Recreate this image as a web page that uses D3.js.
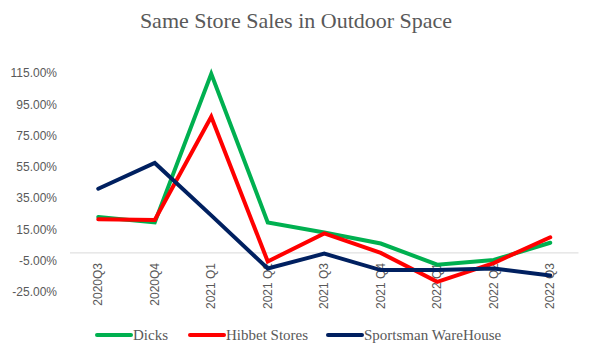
<!DOCTYPE html>
<html>
<head>
<meta charset="utf-8">
<script src="https://cdn.jsdelivr.net/npm/d3@7"></script>
<style>
  body { margin: 0; background: #fff; }
</style>
</head>
<body>
<div id="chart"></div>
<script>
// Quarters on the x axis
var quarters = ["2020Q3", "2020Q4", "2021 Q1", "2021 Q2", "2021 Q3", "2021 Q4", "2022 Q1", "2022 Q2", "2022 Q3"];

// Same store sales, percent
var dicks = [23, 19.5, 114.5, 19.5, 13, 6, -7.5, -4.5, 6.5];
var hibbet = [21.5, 21, 87, -5.5, 12.5, 0, -18.5, -6.5, 10];
var sportsman = [41, 57.5, 24, -10, -0.5, -11, -11, -10, -14.5];

var seriesNames = ["Dicks", "Hibbet Stores", "Sportsman WareHouse"];
var seriesColors = ["#00B050", "#FF0000", "#002060"];

// y ticks
var yTicks = [-25, -5, 15, 35, 55, 75, 95, 115];

var width = 597, height = 353;

var svg = d3.select("#chart")
    .append("svg")
    .attr("width", width)
    .attr("height", height);

// title
svg.append("text")
    .attr("x", 296)
    .attr("y", 28)
    .attr("text-anchor", "middle")
    .attr("fill", "#595959")
    .style("font-family", "Liberation Serif, serif")
    .style("font-size", "22px")
    .text("Same Store Sales in Outdoor Space");

var x = d3.scaleBand()
    .domain(quarters)
    .range([70, 578.5]);

var y = d3.scaleLinear()
    .domain([-25, 115])
    .range([292, 73]);

// y axis labels only (no line)
var yAxis = svg.append("g")
    .attr("transform", "translate(60,0)")
    .call(d3.axisLeft(y).tickValues(yTicks).tickSize(0).tickPadding(3)
        .tickFormat(function (d) { return d.toFixed(2) + "%"; }));
yAxis.select(".domain").remove();
yAxis.selectAll("text")
    .attr("fill", "#595959")
    .style("font-family", "Liberation Sans, Arial, sans-serif")
    .style("font-size", "12px");

// zero line
svg.append("line")
    .attr("x1", x.range()[0])
    .attr("x2", x.range()[1])
    .attr("y1", y(0))
    .attr("y2", y(0))
    .attr("stroke", "#d9d9d9")
    .attr("stroke-width", 1);

// x labels, rotated
svg.append("g")
    .selectAll("text")
    .data(quarters)
    .enter()
    .append("text")
    .attr("transform", function (d) {
        return "translate(" + (x(d) + x.bandwidth() / 2 + 4) + ",263) rotate(-90)";
    })
    .attr("text-anchor", "end")
    .attr("fill", "#595959")
    .style("font-family", "Liberation Sans, Arial, sans-serif")
    .style("font-size", "12px")
    .text(function (d) { return d; });

// lines
var line = d3.line()
    .x(function (d, i) { return x(quarters[i]) + x.bandwidth() / 2; })
    .y(function (d) { return y(d); });

[dicks, hibbet, sportsman].forEach(function (values, k) {
    svg.append("path")
        .datum(values)
        .attr("d", line)
        .attr("fill", "none")
        .attr("stroke", seriesColors[k])
        .attr("stroke-width", 4)
        .attr("stroke-linejoin", "miter")
        .attr("stroke-linecap", "round");
});

// legend
var legendX = [97, 190, 328];
var legend = svg.append("g");
seriesNames.forEach(function (name, k) {
    legend.append("line")
        .attr("x1", legendX[k])
        .attr("x2", legendX[k] + 34)
        .attr("y1", 335)
        .attr("y2", 335)
        .attr("stroke", seriesColors[k])
        .attr("stroke-width", 4)
        .attr("stroke-linecap", "round");
    legend.append("text")
        .attr("x", legendX[k] + 36)
        .attr("y", 339.5)
        .attr("fill", "#595959")
        .style("font-family", "Liberation Serif, serif")
        .style("font-size", "15px")
        .text(name);
});
</script>
</body>
</html>
